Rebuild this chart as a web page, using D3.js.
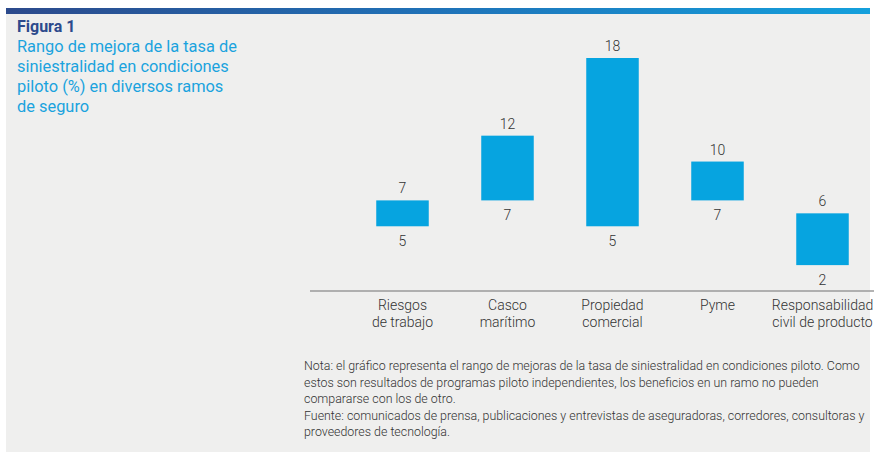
<!DOCTYPE html>
<html lang="es">
<head>
    <meta charset="UTF-8">
    <title>Figura 1</title>
    <script src="https://d3js.org/d3.v7.min.js"></script>
    <style>
        body { margin: 0; background: #fff; }
        svg { display: block; font-family: Roboto, "Liberation Sans", sans-serif; }
    </style>
</head>
<body>
<svg id="chart"></svg>
<script>
    // data
    const categories = ["Riesgos de trabajo", "Casco marítimo", "Propiedad comercial", "Pyme", "Responsabilidad civil de producto"];
    const labelLines = [["Riesgos", "de trabajo"], ["Casco", "marítimo"], ["Propiedad", "comercial"], ["Pyme"], ["Responsabilidad", "civil de producto"]];
    const lowValues = [5, 7, 5, 7, 2];
    const highValues = [7, 12, 18, 10, 6];

    const titleText = "Figura 1";
    const subtitleLines = ["Rango de mejora de la tasa de", "siniestralidad en condiciones", "piloto (%) en diversos ramos", "de seguro"];
    const noteLines = [
        "Nota: el gráfico representa el rango de mejoras de la tasa de siniestralidad en condiciones piloto. Como",
        "estos son resultados de programas piloto independientes, los beneficios en un ramo no pueden",
        "compararse con los de otro.",
        "Fuente: comunicados de prensa, publicaciones y entrevistas de aseguradoras, corredores, consultoras y",
        "proveedores de tecnología."
    ];

    const width = 874, height = 452;
    const svg = d3.select("#chart").attr("width", width).attr("height", height);

    // panel background
    svg.append("rect").attr("x", 6).attr("y", 8).attr("width", 864).attr("height", height - 8).attr("fill", "#efefee");

    // top gradient band
    const grad = svg.append("defs").append("linearGradient").attr("id", "topband");
    grad.append("stop").attr("offset", "0%").attr("stop-color", "#2c4a8c");
    grad.append("stop").attr("offset", "50%").attr("stop-color", "#1f72b8");
    grad.append("stop").attr("offset", "100%").attr("stop-color", "#14a0dc");
    svg.append("rect").attr("x", 6).attr("y", 8).attr("width", 864).attr("height", 6).attr("fill", "url(#topband)");

    // titles
    svg.append("text").attr("x", 17).attr("y", 32)
        .attr("font-size", 16).attr("font-weight", "bold").attr("fill", "#2c4a8c")
        .text(titleText);
    svg.append("g").selectAll("text").data(subtitleLines).join("text")
        .attr("x", 17).attr("y", (d, i) => 52 + i * 20)
        .attr("font-size", 16.4).attr("fill", "#1aa3de")
        .text(d => d);

    // scales
    const x = d3.scaleBand().domain(categories).range([350, 875]).paddingInner(0.5).paddingOuter(0.25);
    const y = d3.scaleLinear().domain([0, 18]).range([291, 58]);

    const rows = categories.map((c, i) => ({ cat: c, lo: lowValues[i], hi: highValues[i], lines: labelLines[i] }));

    // bars
    svg.append("g").selectAll("rect").data(rows).join("rect")
        .attr("x", d => x(d.cat))
        .attr("y", d => y(d.hi))
        .attr("width", x.bandwidth())
        .attr("height", d => y(d.lo) - y(d.hi))
        .attr("fill", "#06a4e0");

    // value labels
    const vals = svg.append("g").attr("font-size", 14).attr("font-weight", 300).attr("fill", "#333").attr("text-anchor", "middle");
    vals.selectAll("text.hi").data(rows).join("text").attr("class", "hi")
        .attr("x", d => x(d.cat) + x.bandwidth() / 2).attr("y", d => y(d.hi) - 7)
        .text(d => d.hi);
    vals.selectAll("text.lo").data(rows).join("text").attr("class", "lo")
        .attr("x", d => x(d.cat) + x.bandwidth() / 2).attr("y", d => y(d.lo) + 20)
        .text(d => d.lo);

    // axis line
    svg.append("line").attr("x1", 310).attr("x2", 874).attr("y1", y(0)).attr("y2", y(0))
        .attr("stroke", "#9a9a9a").attr("stroke-width", 1.5);

    // category labels
    const cats = svg.append("g").attr("font-size", 14).attr("font-weight", 300).attr("fill", "#333").attr("text-anchor", "middle");
    rows.forEach(d => {
        d.lines.forEach((ln, j) => {
            cats.append("text")
                .attr("x", x(d.cat) + x.bandwidth() / 2)
                .attr("y", 310 + j * 17)
                .text(ln);
        });
    });

    // note
    svg.append("g").attr("font-size", 12.4).attr("font-weight", 300).attr("fill", "#333").selectAll("text").data(noteLines).join("text")
        .attr("x", 304).attr("y", (d, i) => 370 + i * 16.5)
        .text(d => d);
</script>
</body>
</html>
